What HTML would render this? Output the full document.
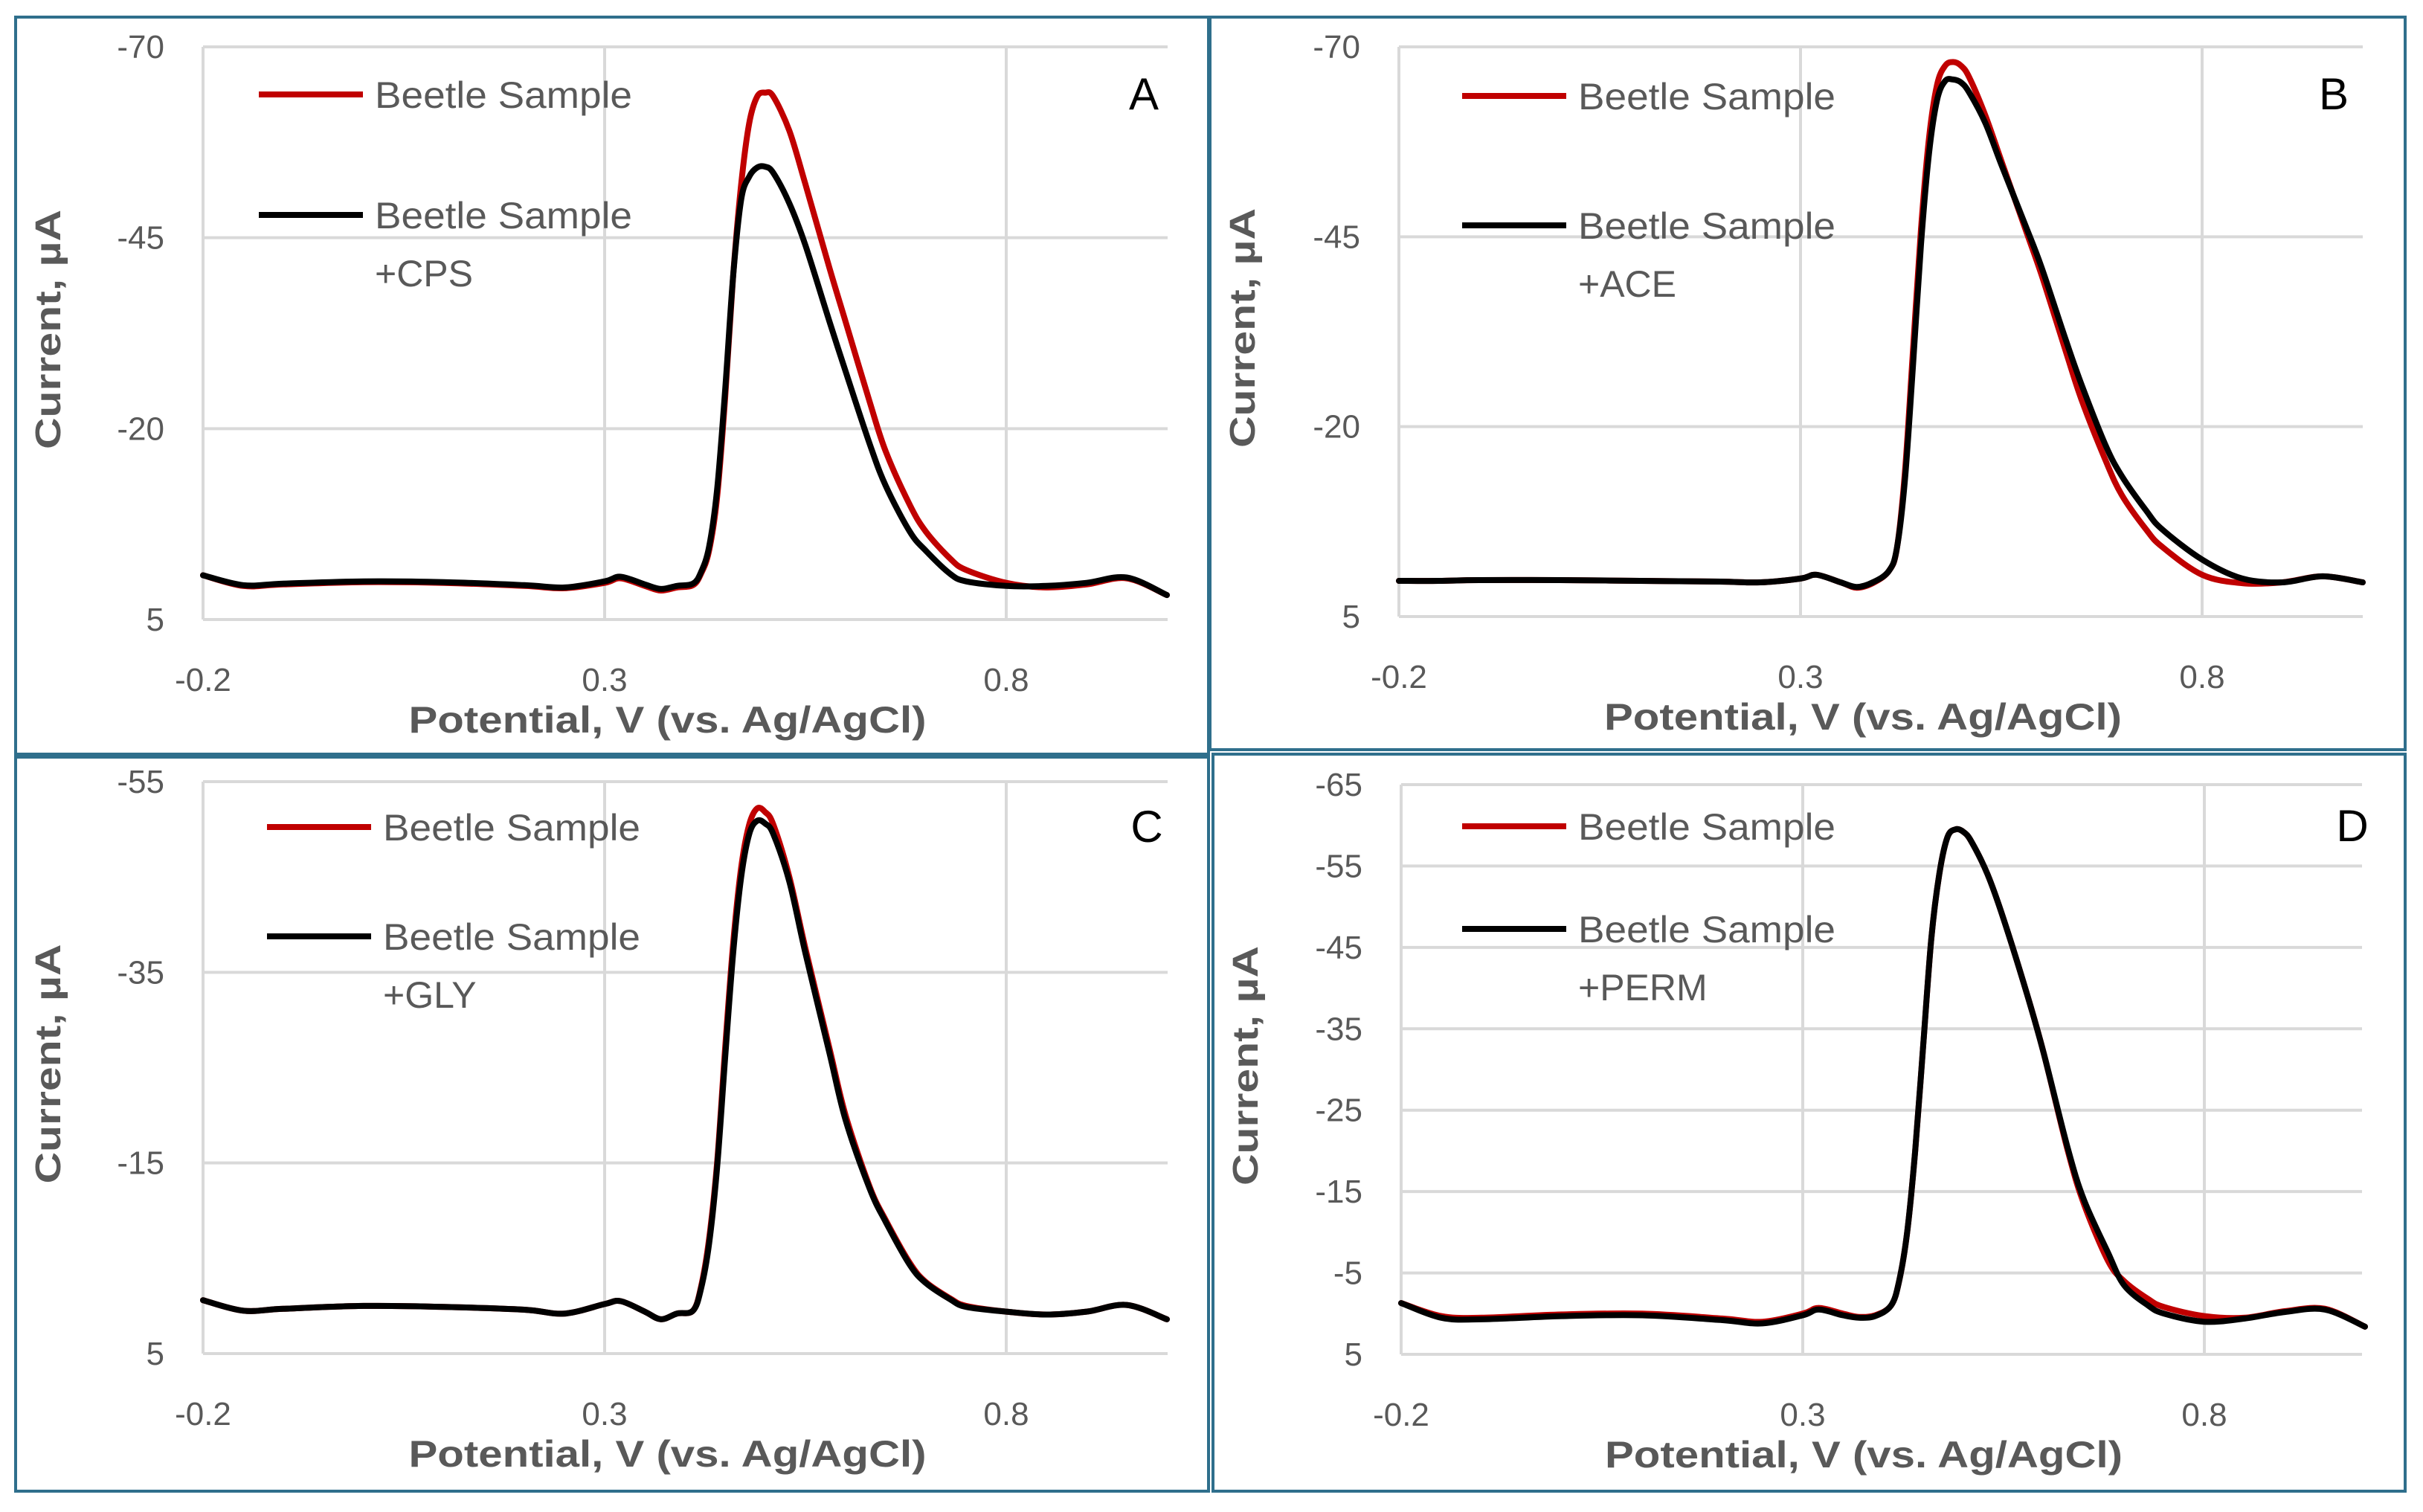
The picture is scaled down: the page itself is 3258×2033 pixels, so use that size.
<!DOCTYPE html>
<html><head><meta charset="utf-8">
<style>
html,body{margin:0;padding:0;background:#fff;}
svg{display:block;}
text{font-family:"Liberation Sans",sans-serif;}
</style></head>
<body>
<svg id="fig" width="3258" height="2033" viewBox="0 0 3258 2033" xmlns="http://www.w3.org/2000/svg">
<rect x="0" y="0" width="3258" height="2033" fill="#fff"/>
</svg>
<script>
const potentials=[-0.2,-0.15,-0.1,0,0.1,0.2,0.25,0.3,0.32,0.35,0.37,0.39,0.41,0.42,0.43,0.44,0.45,0.46,0.47,0.48,0.49,0.5,0.51,0.53,0.55,0.58,0.6,0.63,0.65,0.68,0.7,0.73,0.75,0.8,0.85,0.9,0.95,1.0];
const xTicks=[-0.2,0.3,0.8];
const xTickLabels=["-0.2","0.3","0.8"];
const yTicksAB=[-70,-45,-20,5];
const yTicksC=[-55,-35,-15,5];
const yTicksD=[-65,-55,-45,-35,-25,-15,-5,5];
const legendLabels=["Beetle Sample","Beetle Sample"];
const additives=["+CPS","+ACE","+GLY","+PERM"];
const panelLetters=["A","B","C","D"];
const aRed=[-0.8,0.6,0.4,0.1,0.2,0.6,0.9,0.2,-0.4,0.6,1.2,0.8,0.5,-1,-4,-11,-24,-40,-52,-60,-63.5,-64,-63.5,-59,-52,-41,-34,-23.5,-17,-10,-6.5,-3,-1.5,0.2,0.8,0.4,-0.4,1.8];
const aBlack=[-0.8,0.5,0.3,0,0.1,0.5,0.8,0,-0.6,0.4,1,0.6,0.3,-1.2,-4.5,-12,-25,-40,-50,-53,-54.2,-54.3,-53.5,-49.5,-44,-34,-27.5,-18,-12.5,-6.5,-4,-1,0,0.6,0.6,0.2,-0.5,1.8];
const bRed=[0.3,0.3,0.2,0.2,0.3,0.4,0.5,0,-0.5,0.5,1.2,0.6,-1,-4,-14,-30,-46,-58,-65,-67.5,-68,-67.5,-66,-61,-55,-46,-40,-30,-23.5,-15.5,-11,-6.5,-4.2,-0.5,0.6,0.5,-0.3,0.5];
const bBlack=[0.3,0.3,0.2,0.2,0.3,0.4,0.5,0,-0.5,0.5,1.1,0.5,-1,-4,-13,-28,-44,-56,-63,-65.5,-65.7,-65.3,-64,-60,-54.5,-46.5,-41,-31.5,-25.5,-17.5,-13.5,-9,-6.5,-2.5,0,0.5,-0.3,0.5];
const cRed=[-0.6,0.5,0.3,0,0.1,0.4,0.8,-0.2,-0.5,0.6,1.4,0.8,0.5,-2,-7,-15,-27,-38,-46,-50.5,-52.2,-51.8,-50.5,-45,-37.5,-27,-20,-12.5,-9,-4.5,-2.5,-0.8,0,0.6,0.9,0.6,-0.1,1.4];
const cBlack=[-0.6,0.5,0.3,0,0.1,0.4,0.8,-0.2,-0.5,0.6,1.4,0.8,0.5,-1.8,-6.5,-14.5,-26,-37,-45,-49.5,-50.9,-50.6,-49.5,-44.5,-37,-26.5,-19.5,-12.3,-8.8,-4.3,-2.4,-0.7,0.1,0.6,0.9,0.6,-0.1,1.4];
const dRed=[-1.3,0.3,0.5,0.1,0,0.6,1,0,-0.7,0,0.4,0.2,-1,-4,-10,-20,-33,-46,-54,-58.5,-59.5,-59.2,-58,-54,-48.5,-39,-32,-20,-13.5,-6.5,-4,-1.8,-0.8,0.3,0.5,-0.3,-0.6,1.6];
const dBlack=[-1.3,0.5,0.7,0.3,0.2,0.8,1.2,0.2,-0.5,0.2,0.5,0.3,-1,-4,-10,-20,-33,-46,-54,-58.5,-59.5,-59.2,-58,-54,-48.5,-39,-32,-20.3,-14,-7.5,-3.5,-1,0,1,0.6,-0.2,-0.5,1.6];

const NS="http://www.w3.org/2000/svg";
const svg=document.getElementById('fig');
function mk(tag,attrs,parent){const e=document.createElementNS(NS,tag);for(const k in attrs)e.setAttribute(k,attrs[k]);(parent||svg).appendChild(e);return e;}

const panels=[
 {id:"a",box:[21,23,1625,1014],px0:273,px1:1353,pxR:1570,yTop:63,yBot:833,ticks:yTicksAB,red:aRed,black:aBlack,leg:[348,127,289],letterX:1538,letterY:127},
 {id:"b",box:[1627,23,3234,1008],px0:1881,px1:2961,pxR:3177,yTop:63,yBot:829,ticks:yTicksAB,red:bRed,black:bBlack,leg:[1966,129,303],letterX:3138,letterY:127},
 {id:"c",box:[21,1018,1625,2005],px0:273,px1:1353,pxR:1570,yTop:1051,yBot:1820,ticks:yTicksC,red:cRed,black:cBlack,leg:[359,1112,1259],letterX:1542,letterY:1112},
 {id:"d",box:[1631,1014,3234,2005],px0:1884,px1:2964,pxR:3176,yTop:1055,yBot:1821,ticks:yTicksD,red:dRed,black:dBlack,leg:[1966,1111,1249],letterX:3163,letterY:1111}
];

function smoothPath(pts){
  let d="M"+pts[0][0].toFixed(1)+","+pts[0][1].toFixed(1);
  for(let i=0;i<pts.length-1;i++){
    const p0=pts[i-1]||pts[i],p1=pts[i],p2=pts[i+1],p3=pts[i+2]||p2;
    const c1=[p1[0]+(p2[0]-p0[0])/6,p1[1]+(p2[1]-p0[1])/6];
    const c2=[p2[0]-(p3[0]-p1[0])/6,p2[1]-(p3[1]-p1[1])/6];
    d+=" C"+c1[0].toFixed(1)+","+c1[1].toFixed(1)+" "+c2[0].toFixed(1)+","+c2[1].toFixed(1)+" "+p2[0].toFixed(1)+","+p2[1].toFixed(1);
  }
  return d;
}

panels.forEach((P,pi)=>{
  const g=mk('g',{});
  
  
  const tmin=P.ticks[0],tmax=P.ticks[P.ticks.length-1];
  const xs=v=>P.px0+(v-(-0.2))/(1.0)*(P.px1-P.px0);
  const ys=v=>P.yTop+(v-tmin)/(tmax-tmin)*(P.yBot-P.yTop);
  const border=mk('rect',{x:P.box[0],y:P.box[1],width:P.box[2]-P.box[0],height:P.box[3]-P.box[1],fill:'none',stroke:'#2f6f8c','stroke-width':4},g);
  
  
  P.ticks.forEach((t,i)=>{
    const y=ys(t);
    const l=mk('line',{x1:P.px0,x2:P.pxR,y1:y,y2:y,stroke:'#d9d9d9','stroke-width':4},g);
    
    
    const tx=mk('text',{x:P.px0-52,y:y+15,'text-anchor':'end','font-size':44,fill:'#595959'},g);
    tx.textContent=String(t);
    
    
  });
  xTicks.forEach((t,i)=>{
    const x=xs(t);
    const l=mk('line',{x1:x,x2:x,y1:P.yTop,y2:P.yBot,stroke:'#d9d9d9','stroke-width':4},g);
    
    
    const tx=mk('text',{x:x,y:P.yBot+96,'text-anchor':'middle','font-size':44,fill:'#595959'},g);
    tx.textContent=xTickLabels[i];
    
    
  });
  const xt=mk('text',{x:(P.px0+P.pxR)/2-24,y:P.yBot+152,'text-anchor':'middle','font-size':50,'font-weight':'bold',fill:'#595959',textLength:696,lengthAdjust:'spacingAndGlyphs'},g);
  xt.textContent="Potential, V (vs. Ag/AgCl)";
  
  
  const ycx=P.box[0]+60,ycy=(P.yTop+P.yBot)/2-5;
  const yt=mk('text',{x:ycx,y:ycy,'text-anchor':'middle','font-size':48,'font-weight':'bold',fill:'#595959',transform:'rotate(-90 '+ycx+' '+ycy+')',textLength:322,lengthAdjust:'spacingAndGlyphs'},g);
  yt.textContent="Current, µA";
  
  
  [[P.red,'#c00000','series-beetle-sample'],[P.black,'#000000','series-beetle-sample-plus-'+additives[pi].slice(1).toLowerCase()]].forEach(s=>{
    const pts=potentials.map((v,i)=>[xs(v),ys(s[0][i])]);
    const path=mk('path',{d:smoothPath(pts),fill:'none',stroke:s[1],'stroke-width':8,'stroke-linejoin':'round','stroke-linecap':'round'},g);
    
    
  });
  const lx=P.leg[0];
  [[P.leg[1],'#c00000',legendLabels[0]],[P.leg[2],'#000000',legendLabels[1]]].forEach((L,k)=>{
    const lg=mk('g',{},g);
    
    
    const ln=mk('line',{x1:lx,x2:lx+140,y1:L[0],y2:L[0],stroke:L[1],'stroke-width':8},lg);
    
    
    const t=mk('text',{x:lx+156,y:L[0]+18,'font-size':50,fill:'#595959',textLength:346,lengthAdjust:'spacingAndGlyphs'},lg);
    t.textContent=L[2];
    
    
    if(k===1){
      const t2=mk('text',{x:lx+156,y:L[0]+96,'font-size':50,fill:'#595959'},lg);
      t2.textContent=additives[pi];
      
      
    }
  });
  const lt=mk('text',{x:P.letterX,y:P.letterY+20,'text-anchor':'middle','font-size':60,fill:'#000'},g);
  lt.textContent=panelLetters[pi];
  
  
});
</script>
</body></html>
